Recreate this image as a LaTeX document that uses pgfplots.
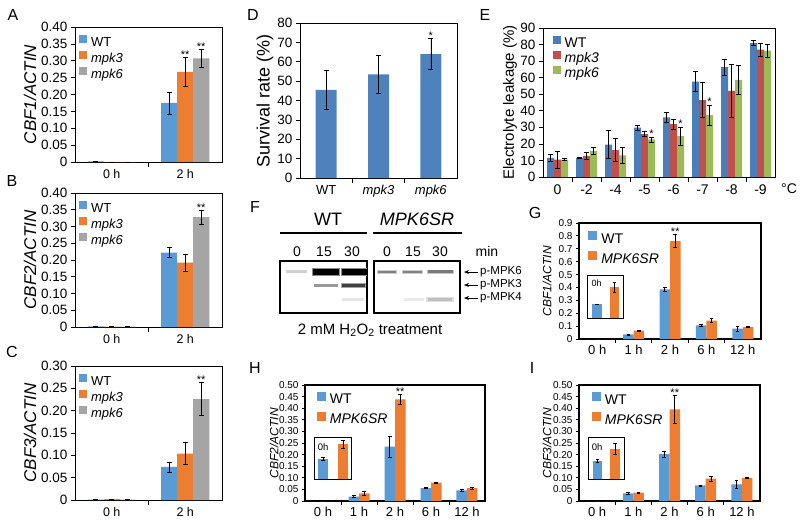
\documentclass[border=0pt]{standalone}
\usepackage{pgfplots}
\pgfplotsset{compat=1.18}
\usepackage{fontspec}
\setmainfont{Liberation Sans}
\usetikzlibrary{arrows.meta}
\newcommand{\fs}[1]{\fontsize{#1}{#1}\selectfont}
\definecolor{cblue}{HTML}{5B9BD5}
\definecolor{corange}{HTML}{ED7D31}
\definecolor{cgray}{HTML}{A5A5A5}
\definecolor{dblue}{HTML}{4F81BD}
\definecolor{eblue}{HTML}{4A7EBB}
\definecolor{ered}{HTML}{C0504D}
\definecolor{egreen}{HTML}{9BBB59}
\pgfplotsset{
 base/.style={scale only axis, anchor=south west, tick align=outside, xtick pos=left, ytick pos=left,
   tick style={black,line width=0.6pt}, major x tick style={opacity=0}, major tick length=4pt, minor tick length=5pt,
   axis line style={line width=0.6pt}, /pgf/number format/assume math mode=true, legend cell align=left, clip=false},
 eb/.style={error bars/.cd, y dir=both, y explicit, error bar style={line width=0.6pt,black},
   error mark options={rotate=90,mark size=2.5pt,line width=0.6pt,black}},
 ebs/.style={error bars/.cd, y dir=both, y explicit, error bar style={line width=0.6pt,black},
   error mark options={rotate=90,mark size=1.8pt,line width=0.6pt,black}},
 stars/.style={draw=none, fill=none, forget plot, nodes near coords, point meta=explicit symbolic,
   every node near coord/.append style={font=\fs{11}, inner sep=0pt, anchor=south, text=black, yshift=-1pt}},
 sq8/.style={legend image code/.code={\fill[##1] (0pt,0pt) rectangle (8pt,8pt);},
   legend style={/tikz/every odd column/.append style={column sep=3pt}}},
 sq9/.style={legend image code/.code={\fill[##1] (0pt,-0.5pt) rectangle (9pt,8.5pt);},
   legend style={/tikz/every odd column/.append style={column sep=3pt}}},
 abc/.style={base, ybar, bar width=16pt, sq8, width=147pt, xmin=-0.5, xmax=1.5, ymin=0,
   xtick={0,1}, xticklabels={0 h,2 h}, minor xtick={0.5},
   xticklabel style={font=\fs{12.5}}, yticklabel style={font=\fs{13.5}},
   ylabel style={font=\fs{17}, at={(axis description cs:-0.306,0.5)}, anchor=center},
   legend style={draw=none, fill=none, at={(axis description cs:0.027,0.94)}, anchor=north west,
     font=\fs{13}, row sep=1pt, inner sep=0pt, nodes={inner sep=1pt, text height=9pt, text depth=3pt}}},
 ghi/.style={base, ybar, bar width=10.5pt, sq9, xmin=-0.5, xmax=4.5, ymin=0, height=116pt,
   xtick={0,1,2,3,4}, xticklabels={0 h,1 h,2 h,6 h,12 h}, minor xtick={0.5,1.5,2.5,3.5},
   axis line style={line width=1.6pt}, tick style={black,line width=1pt}, major x tick style={opacity=0},
   major tick length=3pt, minor tick length=4pt,
   xticklabel style={font=\fs{13}}, yticklabel style={font=\fs{10}},
   ylabel style={font=\fs{12}, anchor=center},
   legend style={draw=none, fill=none, anchor=north west,
     font=\fs{14}, row sep=4pt, inner sep=0pt, nodes={inner sep=1pt, text height=10pt, text depth=3pt}}},
 inset/.style={scale only axis, anchor=south west, ybar, bar width=9.5pt, ymin=0, ymax=1, xtick=\empty, ytick=\empty,
   axis line style={line width=0.9pt}, axis background/.style={fill=white}, clip=false},
 blot/.style={scale only axis, anchor=south west, height=52pt, ymin=0, ymax=52, xmin=0,
   xticklabel pos=upper, ytick=\empty, major tick length=0pt, axis line style={line width=1.2pt},
   xticklabel style={font=\fs{14}, yshift=1pt}},
}
\begin{document}
\begin{tikzpicture}
\useasboundingbox (0pt,0pt) rectangle (800pt,-524pt);
% ---------- A ----------
\begin{axis}[abc, at={(75pt,-162pt)}, height=135pt, ymax=0.4,
  ytick={0,0.05,0.1,0.15,0.2,0.25,0.3,0.35,0.4}, yticklabels={0,0.05,0.10,0.15,0.20,0.25,0.30,0.35,0.40},
  ylabel={\textit{CBF1/ACTIN}}]
\addplot[bar shift=-16pt, fill=cblue, draw=none, eb] coordinates {(0,0.002) +- (0,0) (1,0.175) +- (0,0.033)};
\addplot[bar shift=0pt, fill=corange, draw=none, eb] coordinates {(0,0.0005) +- (0,0) (1,0.267) +- (0,0.043)};
\addplot[bar shift=16pt, fill=cgray, draw=none, eb] coordinates {(0,0.0005) +- (0,0) (1,0.307) +- (0,0.026)};
\legend{WT,\textit{mpk3},\textit{mpk6}}
\addplot[stars, bar shift=0pt] coordinates {(1,0.310) [**]};
\addplot[stars, bar shift=16pt] coordinates {(1,0.333) [**]};
\end{axis}
% ---------- B ----------
\begin{axis}[abc, at={(75pt,-327pt)}, height=134pt, ymax=0.4,
  ytick={0,0.05,0.1,0.15,0.2,0.25,0.3,0.35,0.4}, yticklabels={0,0.05,0.10,0.15,0.20,0.25,0.30,0.35,0.40},
  ylabel={\textit{CBF2/ACTIN}}]
\addplot[bar shift=-16pt, fill=cblue, draw=none, eb] coordinates {(0,0.002) +- (0,0) (1,0.222) +- (0,0.015)};
\addplot[bar shift=0pt, fill=corange, draw=none, eb] coordinates {(0,0.001) +- (0,0) (1,0.192) +- (0,0.025)};
\addplot[bar shift=16pt, fill=cgray, draw=none, eb] coordinates {(0,0.001) +- (0,0) (1,0.328) +- (0,0.02)};
\legend{WT,\textit{mpk3},\textit{mpk6}}
\addplot[stars, bar shift=16pt] coordinates {(1,0.348) [**]};
\end{axis}
% ---------- C ----------
\begin{axis}[abc, at={(75pt,-500pt)}, height=134pt, ymax=0.3,
  ytick={0,0.05,0.1,0.15,0.2,0.25,0.3}, yticklabels={0,0.05,0.10,0.15,0.20,0.25,0.30},
  ylabel={\textit{CBF3/ACTIN}}]
\addplot[bar shift=-16pt, fill=cblue, draw=none, eb] coordinates {(0,0.001) +- (0,0) (1,0.074) +- (0,0.011)};
\addplot[bar shift=0pt, fill=corange, draw=none, eb] coordinates {(0,0.002) +- (0,0) (1,0.104) +- (0,0.025)};
\addplot[bar shift=16pt, fill=cgray, draw=none, eb] coordinates {(0,0.001) +- (0,0) (1,0.226) +- (0,0.037)};
\legend{WT,\textit{mpk3},\textit{mpk6}}
\addplot[stars, bar shift=16pt] coordinates {(1,0.263) [**]};
\end{axis}
% ---------- D ----------
\begin{axis}[base, ybar, bar width=21pt, at={(300pt,-178pt)}, width=157pt, height=155pt, xmin=-0.5, xmax=2.5, ymin=0, ymax=80,
  xtick={0,1,2}, xticklabels={WT,\textit{mpk3},\textit{mpk6}}, minor xtick={0.5,1.5},
  ytick={0,10,...,80}, xticklabel style={font=\fs{13}}, yticklabel style={font=\fs{13.5}},
  ylabel={Survival rate (\%)}, ylabel style={font=\fs{18}, at={(axis description cs:-0.223,0.5)}, anchor=center}]
\addplot[bar shift=0pt, fill=dblue, draw=none, eb] coordinates {(0,45.5) +- (0,10) (1,53.5) +- (0,10) (2,64) +- (0,8)};
\addplot[stars, bar shift=0pt] coordinates {(2,72) [*]};
\end{axis}
% ---------- E ----------
\begin{axis}[base, ybar, bar width=7pt, sq8, at={(543pt,-177pt)}, width=232pt, height=149pt, xmin=-0.5, xmax=7.5, ymin=0, ymax=90,
  xtick={0,...,7}, xticklabels={0,-2,-4,-5,-6,-7,-8,-9}, minor xtick={0.5,1.5,...,6.5},
  ytick={0,10,...,90}, xticklabel style={font=\fs{14}}, yticklabel style={font=\fs{13.5}},
  ylabel={Electrolyte leakage (\%)}, ylabel style={font=\fs{15}, at={(axis description cs:-0.142,0.5)}, anchor=center},
  legend style={draw=none, fill=none, at={(axis description cs:0.043,0.946)}, anchor=north west,
     font=\fs{14}, row sep=0pt, inner sep=0pt, nodes={inner sep=0.5pt, text height=9.5pt, text depth=3pt}}]
\addplot[bar shift=-7pt, fill=eblue, draw=none, eb] coordinates {
 (0,11.5) +- (0,2) (1,11.5) +- (0,0.4) (2,19.6) +- (0,8.5) (3,29.9) +- (0,1.5)
 (4,36) +- (0,3) (5,57.6) +- (0,6) (6,66.3) +- (0,5) (7,80.9) +- (0,1.5)};
\addplot[bar shift=0pt, fill=ered, draw=none, eb] coordinates {
 (0,10.5) +- (0,5.3) (1,12.7) +- (0,2) (2,16.2) +- (0,7) (3,25.9) +- (0,1.6)
 (4,32) +- (0,3) (5,46.5) +- (0,10.5) (6,52) +- (0,16) (7,76.9) +- (0,4)};
\addplot[bar shift=7pt, fill=egreen, draw=none, eb] coordinates {
 (0,10.5) +- (0,0.6) (1,15.8) +- (0,2) (2,13.1) +- (0,5) (3,22.7) +- (0,1.5)
 (4,24.7) +- (0,5.5) (5,37.4) +- (0,6) (6,58.7) +- (0,9) (7,76.3) +- (0,4)};
\legend{WT,\textit{mpk3},\textit{mpk6}}
\addplot[stars, bar shift=7pt] coordinates {(3,24.2) [*] (4,30.2) [*] (5,43.4) [*]};
\end{axis}
\node[anchor=west, font=\fs{14}, inner sep=0pt] at (781pt,-189pt) {°C};
% ---------- F ----------
\node[font=\fs{18}] at (328pt,-219pt) {WT};
\node[font=\fs{18}\itshape] at (417pt,-219pt) {MPK6SR};
\draw[line width=1.2pt] (280pt,-233pt) -- (367pt,-233pt);
\draw[line width=1.2pt] (373pt,-233pt) -- (462pt,-233pt);
\node[font=\fs{14}] at (487pt,-251pt) {min};
\begin{axis}[blot, at={(280pt,-313pt)}, width=87pt, xmax=87, xtick={17,44,72}, xticklabels={0,15,30}]
\addplot[no marks, line width=3pt, black!18] coordinates {(6,41) (27,41)};
\addplot[no marks, line width=8.5pt, black!45] coordinates {(32,41) (60,41)};
\addplot[no marks, line width=6pt, black] coordinates {(33,41) (59,41)};
\addplot[no marks, line width=8.5pt, black!45] coordinates {(61,41) (87,41)};
\addplot[no marks, line width=6.5pt, black] coordinates {(62,41) (87,41)};
\addplot[no marks, line width=3pt, black!40] coordinates {(34,27) (58,27)};
\addplot[no marks, line width=5pt, black!35] coordinates {(61,27) (86,27)};
\addplot[no marks, line width=3pt, black!75] coordinates {(62,27) (85,27)};
\addplot[no marks, line width=3pt, black!10] coordinates {(62,14) (84,14)};
\end{axis}
\begin{axis}[blot, at={(374pt,-313pt)}, width=86pt, xmax=86, xtick={13,39,66}, xticklabels={0,15,30}]
\addplot[no marks, line width=4pt, black!20] coordinates {(3,41) (23,41)};
\addplot[no marks, line width=2.5pt, black!50] coordinates {(4,41) (22,41)};
\addplot[no marks, line width=4pt, black!20] coordinates {(28,41) (49,41)};
\addplot[no marks, line width=2.5pt, black!50] coordinates {(29,41) (48,41)};
\addplot[no marks, line width=4.5pt, black!22] coordinates {(53,41) (80,41)};
\addplot[no marks, line width=3pt, black!52] coordinates {(54,41) (79,41)};
\addplot[no marks, line width=3pt, black!8] coordinates {(30,14) (50,14)};
\addplot[no marks, line width=5pt, black!12] coordinates {(52,14) (80,14)};
\addplot[no marks, line width=3pt, black!25] coordinates {(54,14) (78,14)};
\end{axis}
\draw[-{Stealth[length=5pt,width=4pt]}, line width=0.7pt] (478pt,-272pt) -- (464pt,-272pt);
\draw[-{Stealth[length=5pt,width=4pt]}, line width=0.7pt] (478pt,-285pt) -- (464pt,-285pt);
\draw[-{Stealth[length=5pt,width=4pt]}, line width=0.7pt] (478pt,-298pt) -- (464pt,-298pt);
\node[anchor=west, font=\fs{11.5}, inner sep=1pt] at (479pt,-272pt) {p-MPK6};
\node[anchor=west, font=\fs{11.5}, inner sep=1pt] at (479pt,-285pt) {p-MPK3};
\node[anchor=west, font=\fs{11.5}, inner sep=1pt] at (479pt,-298pt) {p-MPK4};
\node[font=\fs{15}] at (370pt,-330pt) {2 mM H\textsubscript{2}O\textsubscript{2} treatment};
% ---------- G ----------
\begin{axis}[ghi, at={(579pt,-339pt)}, width=182pt, ymax=0.9,
  ytick={0,0.1,...,0.9}, yticklabels={0,0.1,0.2,0.3,0.4,0.5,0.6,0.7,0.8,0.9},
  ylabel={\textit{CBF1/ACTIN}}, ylabel style={at={(axis description cs:-0.176,0.5)}},
  legend style={at={(axis description cs:0.05,0.93)}}]
\addplot[bar shift=-5.25pt, fill=cblue, draw=none, ebs] coordinates {
 (0,0) +- (0,0) (1,0.035) +- (0,0.003) (2,0.385) +- (0,0.015) (3,0.105) +- (0,0.008) (4,0.08) +- (0,0.02)};
\addplot[bar shift=5.25pt, fill=corange, draw=none, ebs] coordinates {
 (0,0) +- (0,0) (1,0.065) +- (0,0.005) (2,0.76) +- (0,0.05) (3,0.143) +- (0,0.015) (4,0.095) +- (0,0.005)};
\legend{WT,\textit{MPK6SR}}
\addplot[stars, bar shift=5.25pt] coordinates {(2,0.81) [**]};
\end{axis}
\begin{axis}[inset, at={(587pt,-318pt)}, width=36pt, height=43pt, xmin=0, xmax=36]
\addplot[bar shift=0pt, fill=cblue, draw=none, ebs] coordinates {(10,0.32) +- (0,0.01)};
\addplot[bar shift=0pt, fill=corange, draw=none, ebs] coordinates {(27.5,0.72) +- (0,0.12)};
\node[anchor=north west, font=\fs{9}, inner sep=0pt] at (rel axis cs:0.12,0.9) {0h};
\end{axis}
% ---------- H ----------
\begin{axis}[ghi, at={(305pt,-501pt)}, width=180pt, ymax=0.5,
  ytick={0,0.05,...,0.5}, yticklabels={0,0.05,0.10,0.15,0.20,0.25,0.30,0.35,0.40,0.45,0.50},
  ylabel={\textit{CBF2/ACTIN}}, ylabel style={at={(axis description cs:-0.172,0.5)}},
  legend style={at={(axis description cs:0.065,0.945)}}]
\addplot[bar shift=-5.25pt, fill=cblue, draw=none, ebs] coordinates {
 (0,0) +- (0,0) (1,0.019) +- (0,0.005) (2,0.234) +- (0,0.045) (3,0.055) +- (0,0.002) (4,0.046) +- (0,0.004)};
\addplot[bar shift=5.25pt, fill=corange, draw=none, ebs] coordinates {
 (0,0) +- (0,0) (1,0.033) +- (0,0.007) (2,0.438) +- (0,0.02) (3,0.079) +- (0,0.002) (4,0.055) +- (0,0.006)};
\legend{WT,\textit{MPK6SR}}
\addplot[stars, bar shift=5.25pt] coordinates {(2,0.458) [**]};
\end{axis}
\begin{axis}[inset, at={(314pt,-479pt)}, width=37pt, height=42pt, xmin=0, xmax=37]
\addplot[bar shift=0pt, fill=cblue, draw=none, ebs] coordinates {(9,0.48) +- (0,0.03)};
\addplot[bar shift=0pt, fill=corange, draw=none, ebs] coordinates {(29,0.83) +- (0,0.1)};
\node[anchor=north west, font=\fs{9.5}, inner sep=0pt] at (rel axis cs:0.1,0.85) {0h};
\end{axis}
% ---------- I ----------
\begin{axis}[ghi, at={(579pt,-501pt)}, width=181pt, ymax=0.5,
  ytick={0,0.05,...,0.5}, yticklabels={0,0.05,0.10,0.15,0.20,0.25,0.30,0.35,0.40,0.45,0.50},
  ylabel={\textit{CBF3/ACTIN}}, ylabel style={at={(axis description cs:-0.177,0.5)}},
  legend style={at={(axis description cs:0.07,0.94)}}]
\addplot[bar shift=-5.25pt, fill=cblue, draw=none, ebs] coordinates {
 (0,0) +- (0,0) (1,0.033) +- (0,0.003) (2,0.203) +- (0,0.013) (3,0.067) +- (0,0.002) (4,0.072) +- (0,0.017)};
\addplot[bar shift=5.25pt, fill=corange, draw=none, ebs] coordinates {
 (0,0) +- (0,0) (1,0.036) +- (0,0.002) (2,0.395) +- (0,0.06) (3,0.096) +- (0,0.01) (4,0.100) +- (0,0.002)};
\legend{WT,\textit{MPK6SR}}
\addplot[stars, bar shift=5.25pt] coordinates {(2,0.455) [**]};
\end{axis}
\begin{axis}[inset, at={(588pt,-479pt)}, width=36pt, height=42pt, xmin=0, xmax=36]
\addplot[bar shift=0pt, fill=cblue, draw=none, ebs] coordinates {(9.5,0.43) +- (0,0.04)};
\addplot[bar shift=0pt, fill=corange, draw=none, ebs] coordinates {(27,0.71) +- (0,0.13)};
\node[anchor=north west, font=\fs{9.5}, inner sep=0pt] at (rel axis cs:0.1,0.85) {0h};
\end{axis}
% ---------- panel letters ----------
\foreach \l/\x/\y in {A/13/15, B/12/181, C/12/352, D/253/15, E/485/15, F/255/207, G/535/213, H/255/368, I/532/368}
  \node[font=\fs{16}] at (\x pt,-\y pt) {\l};
\end{tikzpicture}
\end{document}
